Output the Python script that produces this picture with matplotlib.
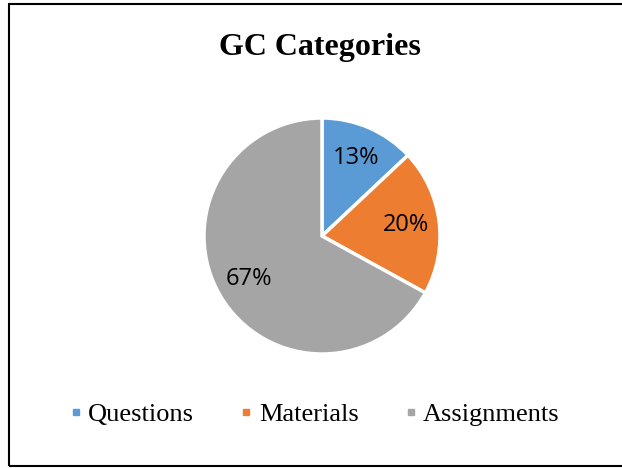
import matplotlib.pyplot as plt
from matplotlib.patches import Rectangle
from matplotlib.lines import Line2D

categories = ['Questions', 'Materials', 'Assignments']
shares = [13, 20, 67]
colors = ['#5B9BD5', '#ED7D31', '#A5A5A5']

fig = plt.figure(figsize=(6.22, 4.68), dpi=100)

# chart border (right edge falls outside the image)
fig.patches.append(Rectangle((9 / 622, 2 / 468), 1.1, 462 / 468, transform=fig.transFigure,
                             fill=False, edgecolor='black', linewidth=1.5))

fig.text(0.515, 1 - 47 / 468, 'GC Categories', ha='center', va='center',
         fontsize=23, fontweight='bold', family='Liberation Serif')

ax = fig.add_axes([(322 - 118) / 622, (468 - 236 - 118) / 468, 236 / 622, 236 / 468])
wedges, _, autotexts = ax.pie(shares, colors=colors, startangle=90, counterclock=False,
                              autopct='%1.0f%%', pctdistance=0.72,
                              wedgeprops=dict(edgecolor='white', linewidth=2.5),
                              textprops=dict(fontsize=17, family='Open Sans', color='black'))
ax.set_xlim(-1, 1)
ax.set_ylim(-1, 1)
ax.set_aspect('equal')

handles = [Line2D([], [], linestyle='none', marker='s', markersize=5,
                  markerfacecolor=c, markeredgecolor=c) for c in colors]
fig.legend(handles, categories, loc='center', bbox_to_anchor=(0.507, 1 - 414 / 468),
           ncol=3, frameon=False, handlelength=0.35, handletextpad=0.3,
           columnspacing=1.8, prop=dict(family='Liberation Serif', size=19))

fig.savefig('out.png', dpi=100)
